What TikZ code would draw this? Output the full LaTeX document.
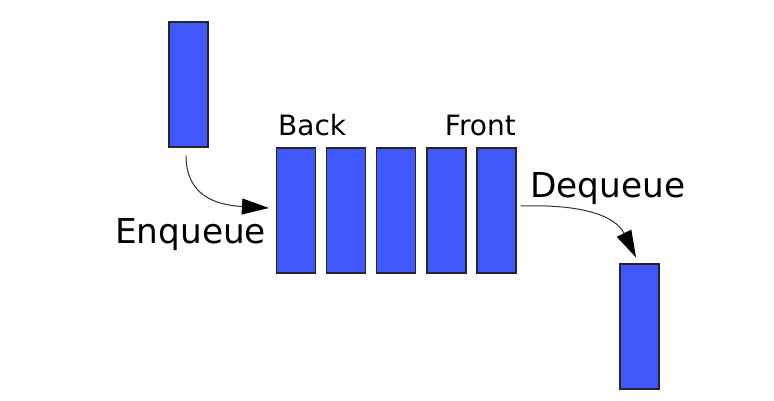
\documentclass[tikz,border=0pt]{standalone}
\usepackage{fontspec}
\setmainfont{DejaVu Sans}
\usetikzlibrary{arrows.meta}
\definecolor{qblue}{RGB}{64,88,250}
\definecolor{qline}{RGB}{50,50,50}
\tikzset{
  block/.style={draw=black!85, line width=1.2pt, fill=qblue, minimum width=39pt, minimum height=125pt, inner sep=0pt},
  lab/.style={inner sep=0pt, font=\fontsize{28}{30}\selectfont},
  biglab/.style={inner sep=0pt, font=\fontsize{34.3}{36}\selectfont},
  flow/.style={draw=qline, line width=1pt, -{Triangle[length=27pt,width=16pt,color=black]}}
}
\begin{document}
\begin{tikzpicture}[x=1pt,y=-1pt]
\useasboundingbox (0,0) rectangle (774,400);
\node[block] (top) at (188.5,84.5) {};
\node[block] (q1) at (296,210.5) {};
\node[block] (q2) at (346,210.5) {};
\node[block] (q3) at (396,210.5) {};
\node[block] (q4) at (446.5,210.5) {};
\node[block] (q5) at (496.5,210.5) {};
\node[block] (out) at (639.5,326.5) {};
\node[lab, anchor=base west] (back) at (278,135) {Back};
\node[lab, anchor=base east] (front) at (516,135) {Front};
\node[biglab, anchor=base west] (enq) at (115,243.5) {Enqueue};
\node[biglab, anchor=base west] (deq) at (530,197.5) {Dequeue};
\draw[flow] ([xshift=-2.5pt,yshift=-8pt]top.south) .. controls (186,195) and (215,205) .. ([xshift=-7pt,yshift=2.5pt]q1.west);
\draw[flow] ([xshift=4pt,yshift=4.5pt]q5.east) .. controls (580,204) and (615,215) .. ([xshift=-3.5pt,yshift=6pt]out.north);
\end{tikzpicture}
\end{document}
